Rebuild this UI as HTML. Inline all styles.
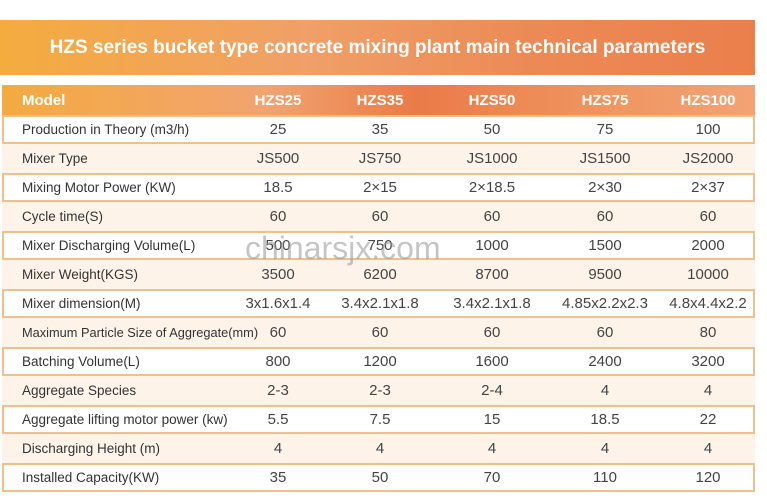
<!DOCTYPE html>
<html><head><meta charset="utf-8"><style>
body{margin:0;width:767px;height:504px;background:#fff;position:relative;overflow:hidden;font-family:"Liberation Sans",sans-serif;}
.ban{position:absolute;left:0;top:20px;width:755px;height:55px;background:linear-gradient(90deg,#f4ac3e 0%,#f0a068 40%,#ec8a55 70%,#eb7f4c 100%);color:#fff;font-weight:bold;font-size:19px;line-height:55px;text-align:center;}
.hdr{position:absolute;left:2px;top:85px;width:753px;height:30px;background:linear-gradient(90deg,#f4aa40 0%,#f1a470 35%,#ea7b48 55%,#ef9560 80%,#f2a374 100%);color:#fff;font-weight:bold;font-size:15px;}
.row{position:absolute;left:2px;width:753px;height:29px;box-sizing:border-box;font-size:13.5px;color:#333;}
.w{background:#fff;border:2px solid #f0c08c;}
.b{background:#fdf3e8;}
.c{position:absolute;top:0;height:100%;display:flex;align-items:center;}
.v{width:100px;justify-content:center;font-size:15px;color:#444;margin-left:-50px;}
.l{left:20px;}
.wm{position:absolute;left:245px;top:230px;font-size:32px;color:rgba(150,150,150,0.55);}
</style></head><body>
<div class="ban">HZS series bucket type concrete mixing plant main technical parameters</div>
<div class="hdr"><div class="c l">Model</div><div class="c v" style="left:276px;font-size:15px;color:#fff;font-weight:bold">HZS25</div><div class="c v" style="left:378px;font-size:15px;color:#fff;font-weight:bold">HZS35</div><div class="c v" style="left:490px;font-size:15px;color:#fff;font-weight:bold">HZS50</div><div class="c v" style="left:603px;font-size:15px;color:#fff;font-weight:bold">HZS75</div><div class="c v" style="left:706px;font-size:15px;color:#fff;font-weight:bold">HZS100</div></div>
<div id="t"></div>
<div class="wm">chinarsjx.com</div>
<script>
var d=[["Production in Theory (m3/h)","25","35","50","75","100"],
["Mixer Type","JS500","JS750","JS1000","JS1500","JS2000"],
["Mixing Motor Power (KW)","18.5","2×15","2×18.5","2×30","2×37"],
["Cycle time(S)","60","60","60","60","60"],
["Mixer Discharging Volume(L)","500","750","1000","1500","2000"],
["Mixer Weight(KGS)","3500","6200","8700","9500","10000"],
["Mixer dimension(M)","3x1.6x1.4","3.4x2.1x1.8","3.4x2.1x1.8","4.85x2.2x2.3","4.8x4.4x2.2"],
["<span style='font-size:12.8px'>Maximum Particle Size of Aggregate(mm)</span>","60","60","60","60","80"],
["Batching Volume(L)","800","1200","1600","2400","3200"],
["Aggregate Species","2-3","2-3","2-4","4","4"],
["Aggregate lifting motor power (kw)","5.5","7.5","15","18.5","22"],
["Discharging Height (m)","4","4","4","4","4"],
["Installed Capacity(KW)","35","50","70","110","120"]];
var xs=[276,378,490,603,706],h="";
d.forEach(function(r,i){h+='<div class="row '+(i%2?'b':'w')+'" style="top:'+(115+i*29)+'px"><div class="c l"'+(i%2?'':' style="left:18px"')+'>'+r[0]+'</div>';
for(var k=0;k<5;k++)h+='<div class="c v" style="left:'+(xs[k]-(i%2?0:2))+'px">'+r[k+1]+'</div>';h+='</div>';});
document.getElementById('t').innerHTML=h;
</script>
</body></html>
